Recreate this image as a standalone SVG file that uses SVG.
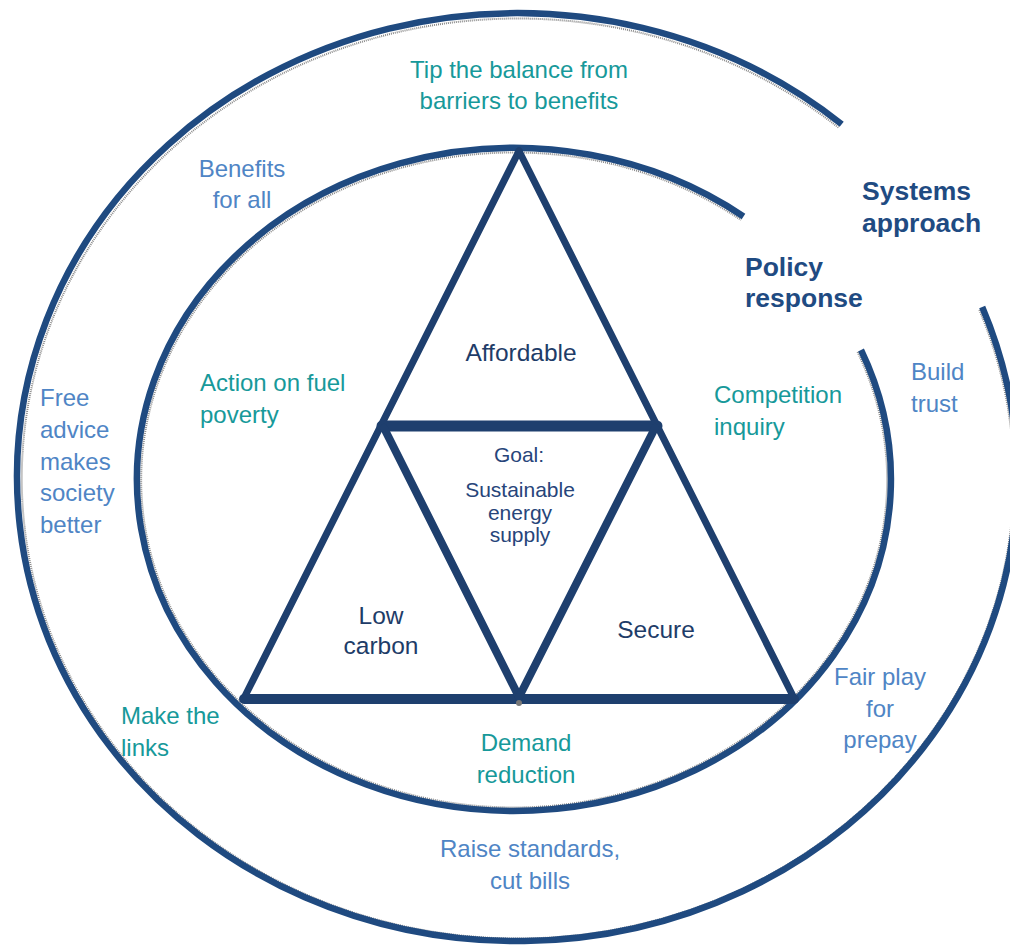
<svg xmlns="http://www.w3.org/2000/svg" width="1010" height="945" viewBox="0 0 1010 945">
<style>
.ring{fill:none;stroke:#1f4a80;stroke-width:6.5}
.shade{fill:none;stroke:#8a8a8a;stroke-width:2;stroke-dasharray:1 1}
.tri{fill:none;stroke:#1e3f6e;stroke-linecap:round;stroke-linejoin:round}
text{font-family:"Liberation Sans",Arial,sans-serif}
.teal{fill:#17999a;font-size:24px}
.lb{fill:#4f85c5;font-size:24px}
.hd{fill:#1f4b82;font-size:26.5px;font-weight:bold}
.tl{fill:#1e3c68;font-size:24.5px}
.gl{fill:#27457a;font-size:21px}
.mid{text-anchor:middle}
</style>
<rect width="1010" height="945" fill="#ffffff"/>
<g id="connectors">
<g id="outer-ring">
<path class="shade" d="M 979.3 310 A 496 460 0 1 1 839 128"/>
<path class="ring" d="M 982.2 306.9 A 500 464 0 1 1 841.7 124.2"/>
</g>
<g id="inner-ring">
<path class="shade" d="M 857.5 352 A 373 327.5 0 1 1 741 220"/>
<path class="ring" d="M 861 350 A 377 331.5 0 1 1 743.5 216.5"/>
</g>
<g id="triangle">
<line class="tri" x1="519" y1="151" x2="244" y2="698" stroke-width="7"/>
<line class="tri" x1="519" y1="151" x2="794" y2="698" stroke-width="7"/>
<line class="tri" x1="244" y1="699" x2="794" y2="699" stroke-width="10"/>
<line class="tri" x1="382" y1="426" x2="657" y2="426" stroke-width="11"/>
<line class="tri" x1="384" y1="428" x2="519" y2="697" stroke-width="8"/>
<line class="tri" x1="655" y1="428" x2="519" y2="697" stroke-width="8"/>
<circle cx="519" cy="703" r="3" fill="#777"/>
</g>
</g>
<g id="tip-balance"><text class="teal mid" x="519" y="78">Tip the balance from</text><text class="teal mid" x="519" y="109">barriers to benefits</text></g>
<g id="benefits-for-all"><text class="lb mid" x="242" y="177">Benefits</text><text class="lb mid" x="242" y="208">for all</text></g>
<g id="systems-approach"><text class="hd" x="862" y="200">Systems</text><text class="hd" x="862" y="232">approach</text></g>
<g id="policy-response"><text class="hd" x="745" y="276">Policy</text><text class="hd" x="745" y="307">response</text></g>
<g id="action-fuel-poverty"><text class="teal" x="200" y="391">Action on fuel</text><text class="teal" x="200" y="423">poverty</text></g>
<g id="competition-inquiry"><text class="teal" x="714" y="403">Competition</text><text class="teal" x="714" y="435">inquiry</text></g>
<g id="build-trust"><text class="lb" x="911" y="380">Build</text><text class="lb" x="911" y="412">trust</text></g>
<g id="free-advice"><text class="lb" x="40" y="406">Free</text><text class="lb" x="40" y="438">advice</text><text class="lb" x="40" y="470">makes</text><text class="lb" x="40" y="501">society</text><text class="lb" x="40" y="533">better</text></g>
<g id="make-links"><text class="teal" x="121" y="724">Make the</text><text class="teal" x="121" y="756">links</text></g>
<g id="demand-reduction"><text class="teal mid" x="526" y="751">Demand</text><text class="teal mid" x="526" y="783">reduction</text></g>
<g id="fair-play"><text class="lb mid" x="880" y="685">Fair play</text><text class="lb mid" x="880" y="717">for</text><text class="lb mid" x="880" y="748">prepay</text></g>
<g id="raise-standards"><text class="lb mid" x="530" y="857">Raise standards,</text><text class="lb mid" x="530" y="889">cut bills</text></g>
<g id="affordable"><text class="tl mid" x="521" y="361">Affordable</text></g>
<g id="goal"><text class="gl mid" x="519" y="462">Goal:</text><text class="gl mid" x="520" y="497">Sustainable</text><text class="gl mid" x="520" y="520">energy</text><text class="gl mid" x="520" y="542">supply</text></g>
<g id="low-carbon"><text class="tl mid" x="381" y="624">Low</text><text class="tl mid" x="381" y="654">carbon</text></g>
<g id="secure"><text class="tl mid" x="656" y="638">Secure</text></g>
</svg>
